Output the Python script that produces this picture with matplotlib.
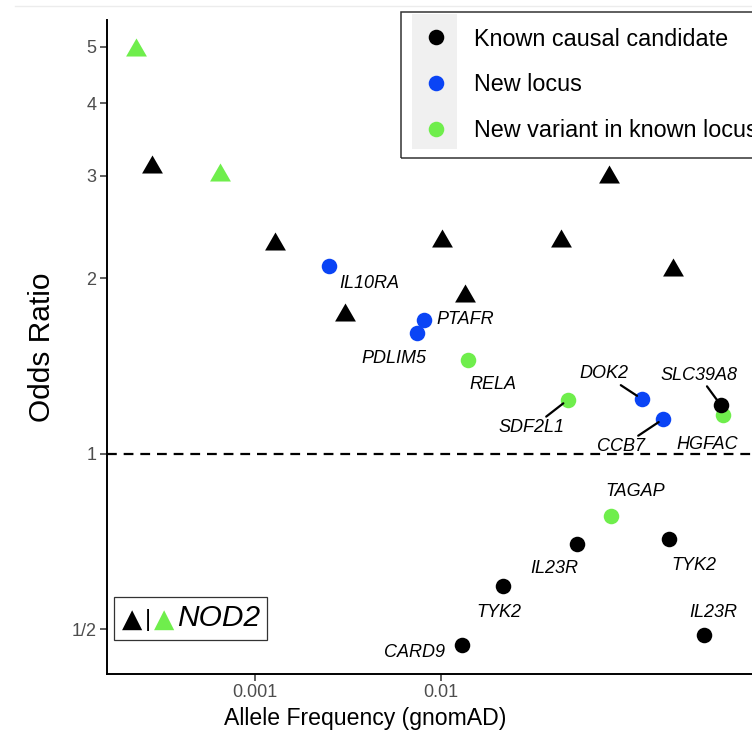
import matplotlib
matplotlib.use("Agg")
import matplotlib.pyplot as plt
from matplotlib.lines import Line2D
from matplotlib.patches import Rectangle
from matplotlib.offsetbox import AnchoredOffsetbox, HPacker, TextArea

plt.rcParams["font.family"] = ["Liberation Sans", "DejaVu Sans"]

COLORS = {
    "known": "#000000",
    "new_locus": "#0a44f5",
    "new_variant": "#6fee4c",
}
LEGEND_LABELS = {
    "known": "Known causal candidate",
    "new_locus": "New locus",
    "new_variant": "New variant in known locus",
}

# NOD2 variants (triangles)
nod2_af = [2.30e-4, 2.78e-4, 6.49e-4, 1.28e-3, 3.05e-3, 0.0101, 0.01355, 0.0446, 0.0809, 0.179]
nod2_or = [5.00, 3.14, 3.05, 2.32, 1.75, 2.35, 1.89, 2.35, 3.02, 2.09]
nod2_group = ["new_variant", "known", "new_variant", "known", "known",
              "known", "known", "known", "known", "known"]

# other loci (circles)
genes = ["IL10RA", "PTAFR", "PDLIM5", "RELA", "SDF2L1", "DOK2", "CCB7", "SLC39A8",
         "HGFAC", "TAGAP", "IL23R", "TYK2", "TYK2", "IL23R", "CARD9"]
gene_af = [2.50e-3, 8.13e-3, 7.48e-3, 0.0141, 0.0483, 0.1208, 0.158, 0.322,
           0.333, 0.0822, 0.0545, 0.170, 0.0217, 0.262, 0.0131]
gene_or = [2.10, 1.70, 1.61, 1.45, 1.238, 1.243, 1.148, 1.213,
           1.167, 0.784, 0.701, 0.714, 0.594, 0.489, 0.471]
gene_group = ["new_locus", "new_locus", "new_locus", "new_variant", "new_variant",
              "new_locus", "new_locus", "known", "new_variant", "new_variant",
              "known", "known", "known", "known", "known"]

# label placement (offset in pixels from the point) and whether a segment is drawn
label_offsets = [(40, -17), (41, 0), (-23, -25), (25, -25), (-36, -28), (-38, 25),
                 (-42, -28), (-22, 30), (-16, -30), (25, 24), (-23, -25), (25, -26),
                 (-4, -27), (9, 23), (-48, -8)]
label_segment = [False, False, False, False, True, True, True, True,
                 False, False, False, False, False, False, False]

y_ticks = [0.5, 1, 2, 3, 4, 5]
y_ticklabels = ["1/2", "1", "2", "3", "4", "5"]
x_ticks = [0.001, 0.01]
x_ticklabels = ["0.001", "0.01"]

W, H = 752, 748
fig = plt.figure(figsize=(W / 100, H / 100), dpi=100)
ax = fig.add_axes([106.7 / W, 1 - 674 / H, (W - 106.7) / W, 654 / H])
ax.set_xscale("log")
ax.set_yscale("log", base=2)
ax.set_xlim(1.590e-4, 0.4746)
ax.set_ylim(0.4192, 5.553)

ax.axhline(1, color="black", lw=1.6, ls=(0, (4.4, 3.1)), zorder=1)

# triangle marker with equilateral proportions
tri = [(-1, -0.866), (1, -0.866), (0, 0.866), (-1, -0.866)]

for grp in ["new_variant", "new_locus", "known"]:
    xs = [a for a, g in zip(nod2_af, nod2_group) if g == grp]
    ys = [o for o, g in zip(nod2_or, nod2_group) if g == grp]
    if xs:
        ax.scatter(xs, ys, marker=tri, s=225, color=COLORS[grp], linewidths=0, zorder=3)

for grp in ["new_variant", "new_locus", "known"]:
    xs = [a for a, g in zip(gene_af, gene_group) if g == grp]
    ys = [o for o, g in zip(gene_or, gene_group) if g == grp]
    ax.scatter(xs, ys, marker="o", s=125, color=COLORS[grp], linewidths=0, zorder=3)

for name, x, y, off, seg in zip(genes, gene_af, gene_or, label_offsets, label_segment):
    kw = {}
    if seg:
        kw["arrowprops"] = dict(arrowstyle="-", color="black", lw=1.6,
                                shrinkA=0, shrinkB=4)
    ax.annotate(name, (x, y), xytext=off, textcoords="offset pixels",
                ha="center", va="center", fontsize=13, style="italic", zorder=4, **kw)

ax.set_xticks(x_ticks, x_ticklabels)
ax.set_yticks(y_ticks, y_ticklabels)
ax.xaxis.set_minor_locator(matplotlib.ticker.NullLocator())
ax.yaxis.set_minor_locator(matplotlib.ticker.NullLocator())
ax.tick_params(length=5, width=1.1, color="#333333", labelcolor="#4d4d4d",
               labelsize=13, pad=2.5)
for side in ["top", "right"]:
    ax.spines[side].set_visible(False)
for side in ["left", "bottom"]:
    ax.spines[side].set_linewidth(1.4)

ax.set_xlabel("Allele Frequency (gnomAD)", fontsize=16.6)
ax.set_ylabel("Odds Ratio", fontsize=21.5)
ax.xaxis.set_label_coords(0.4, -0.0497)
ax.yaxis.set_label_coords(-0.078, 0.5)

# legend
handles = [Line2D([], [], marker="o", ls="", markersize=11.2, markeredgewidth=0,
                  color=COLORS[k]) for k in ["known", "new_locus", "new_variant"]]
leg = ax.legend(handles, [LEGEND_LABELS[k] for k in ["known", "new_locus", "new_variant"]],
                loc="upper left", bbox_to_anchor=(401 / W, 1 - 11.7 / H),
                bbox_transform=fig.transFigure, borderaxespad=0, borderpad=0.68,
                handlelength=1.65, handletextpad=0.78, labelspacing=0.97,
                fontsize=16.8, fancybox=False, framealpha=1)
leg.get_frame().set_facecolor("none")
leg.get_frame().set_edgecolor("#333333")
leg.get_frame().set_linewidth(1.1)

key_bg = Rectangle((412 / W, 1 - 149 / H), 45 / W, 135 / H, transform=fig.transFigure,
                   facecolor="#f0f0f0", edgecolor="none", zorder=4, clip_on=False)
ax.add_artist(key_bg)

# NOD2 key box
tri_font = dict(size=19, family="DejaVu Sans")
parts = [
    TextArea("\u25B2", textprops=dict(color="black", **tri_font)),
    TextArea("|", textprops=dict(color="black", size=17)),
    TextArea("\u25B2", textprops=dict(color=COLORS["new_variant"], **tri_font)),
    TextArea("NOD2", textprops=dict(color="black", size=21.5, style="italic")),
]
pack = HPacker(children=parts, align="baseline", pad=0, sep=2)
nod2_box = AnchoredOffsetbox(loc="lower left", child=pack, pad=0.55, borderpad=0,
                             frameon=True, prop=dict(size=10),
                             bbox_to_anchor=(114 / W, 1 - 640 / H),
                             bbox_transform=fig.transFigure)
nod2_box.patch.set_edgecolor("#333333")
nod2_box.patch.set_linewidth(0.9)
nod2_box.patch.set_boxstyle("square", pad=0)
ax.add_artist(nod2_box)

fig.add_artist(Line2D([15 / W, 1], [1 - 6 / H, 1 - 6 / H], transform=fig.transFigure,
                      color="#ececec", lw=1))

fig.savefig("out.png", dpi=100)
